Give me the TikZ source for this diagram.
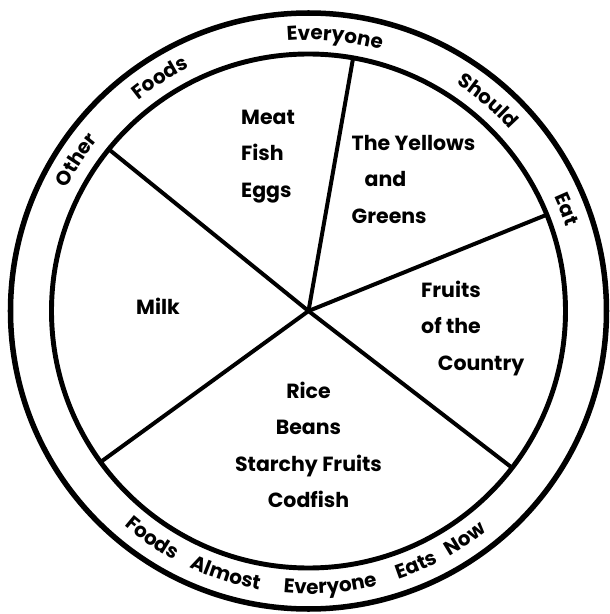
\documentclass[tikz,border=0pt]{standalone}
\usepackage{fontspec}
\setsansfont{Poppins}
\usetikzlibrary{decorations.text}

\begin{document}
\begin{tikzpicture}[
    x=0.03cm, y=0.03cm, % one unit = one pixel of the sketch
    spoke/.style={line width=3.4pt, line cap=round}, % Style for the dividing lines
    foodtext/.style={font=\sffamily\bfseries\fontsize{17.5}{31.2}\selectfont, inner sep=0pt},
    ringtop/.style={decorate, decoration={text along path, text align=center,
        text={|\sffamily\bfseries\fontsize{17}{20}\selectfont|#1}}},
    ringbottom/.style={decorate, decoration={text along path, text align=center,
        text={|\sffamily\bfseries\fontsize{17}{20}\selectfont|#1}}}
]
    \useasboundingbox (-308.5,-303) rectangle (300.5,311);

    % Centre and the ends of the spokes on the inner circle
    \coordinate (O) at (0,0);
    \coordinate (S_top) at (80:257);
    \coordinate (S_left) at (141:257);
    \coordinate (S_lowleft) at (216:257);
    \coordinate (S_lowright) at (322.4:257);
    \coordinate (S_right) at (22:257);

    % Rings
    \draw[line width=4.7pt] (O) circle (298); % Outer ring
    \draw[line width=4.2pt] (O) circle (257); % Inner ring

    % Spokes
    \draw[spoke] (O) -- (S_top);
    \draw[spoke] (O) -- (S_left);
    \draw[spoke] (O) -- (S_lowleft);
    \draw[spoke] (O) -- (S_lowright);
    \draw[spoke] (O) -- (S_right);

    % Upper ring text (read clockwise)
    \path[ringtop=Other] (162:271) arc (162:132:271);
    \path[ringtop=Foods] (137.5:271) arc (137.5:107.5:271);
    \path[ringtop=Everyone] (102:271) arc (102:67:271);
    \path[ringtop=Should] (64.5:271) arc (64.5:34.5:271);
    \path[ringtop=Eat] (34.5:271) arc (34.5:8.5:271);

    % Lower ring text (read counter-clockwise)
    \path[ringbottom=Foods] (222:283) arc (222:249:283);
    \path[ringbottom=Almost] (238:283) arc (238:267:283);
    \path[ringbottom=Everyone] (259:283) arc (259:290:283);
    \path[ringbottom=Eats] (281:283) arc (281:305:283);
    \path[ringbottom=Now] (293.5:283) arc (293.5:315.5:283);

    % Food groups
    \node[foodtext, anchor=west, align=left] (meat) at (-67.5,154.5) {Meat\\Fish\\Eggs};
    \node[foodtext, anchor=west, align=left] (yellows) at (43,131.6) {The Yellows\\\hspace{0.39cm}and\\Greens};
    \node[foodtext] (milk) at (-150.5,5) {Milk};
    \node[foodtext, anchor=west, align=left] (fruits) at (112.5,-17.5) {Fruits\\of the\\\hspace{0.5cm}Country};
    \node[foodtext, align=center] (rice) at (0,-133.7) {Rice\\Beans\\Starchy Fruits\\Codfish};

\end{tikzpicture}
\end{document}
